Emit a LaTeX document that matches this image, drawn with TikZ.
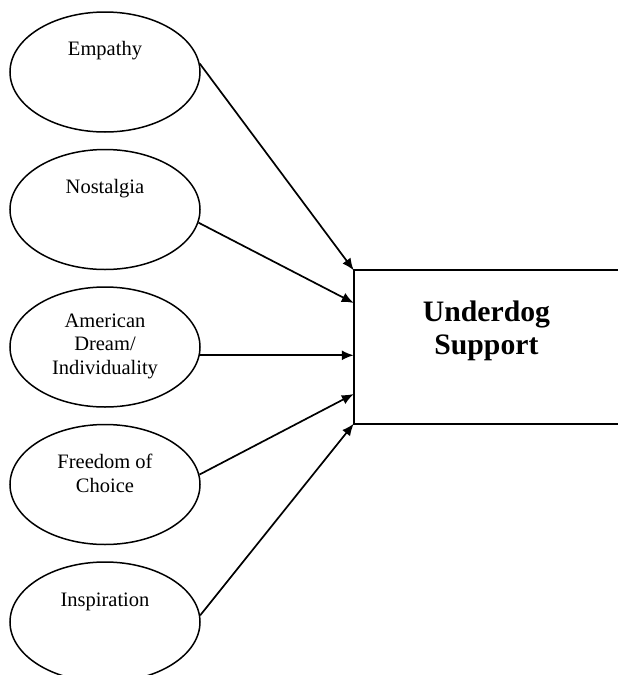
\documentclass[tikz,border=0pt]{standalone}
\usepackage{fontspec}
\setmainfont{Liberation Serif}
\usetikzlibrary{positioning,shapes.geometric,arrows.meta}

\begin{document}
\begin{tikzpicture}[
        x=1pt, y=-1pt,
        font=\fontsize{20.5}{23.5}\selectfont,
        >={Latex[length=12pt,width=10pt]},
        node distance=16pt,
        factor/.style={ellipse,draw,line width=1.5pt,minimum width=190pt,minimum height=120pt,inner sep=0pt},
        caption/.style={align=center,inner sep=0pt},
        arrow/.style={->,line width=1.7pt}
    ]
        \useasboundingbox (0,0) rectangle (618,675);
        \node[factor] (empathy) at (105,72) {};
        \node[factor,below=of empathy] (nostalgia) {};
        \node[factor,below=of nostalgia] (dream) {};
        \node[factor,below=of dream] (freedom) {};
        \node[factor,below=of freedom] (inspiration) {};
        \node[minimum width=265pt,minimum height=153pt,inner sep=0pt,right=153pt of dream] (support) {};

        \node[caption] (empathy-txt) at ([yshift=21pt]empathy.center) {Empathy};
        \node[caption] (nostalgia-txt) at ([yshift=21pt]nostalgia.center) {Nostalgia};
        \node[caption] (dream-txt) at ([yshift=1pt]dream.center) {American\\Dream/\\Individuality};
        \node[caption] (freedom-txt) at ([yshift=11pt]freedom.center) {Freedom of\\Choice};
        \node[caption] (inspiration-txt) at ([yshift=20pt]inspiration.center) {Inspiration};
        \node[caption,font=\fontsize{29.7}{33}\selectfont\bfseries] (support-txt) at ([yshift=16pt]support.center) {Underdog\\Support};

        % box is open on the right (cut by the page edge)
        \draw[line width=1.8pt] (support.north east) -- (support.north west) -- (support.south west) -- (support.south east);

        \draw[arrow] (empathy.5) -- (support.north west);
        \draw[arrow] (nostalgia.-8) -- ([yshift=44pt]support.west);
        \draw[arrow] (dream.-5) -- (dream.-5 -| support.west);
        \draw[arrow] (freedom.6) -- ([yshift=-47pt]support.west);
        \draw[arrow] (inspiration.4) -- (support.south west);
    \end{tikzpicture}
\end{document}
